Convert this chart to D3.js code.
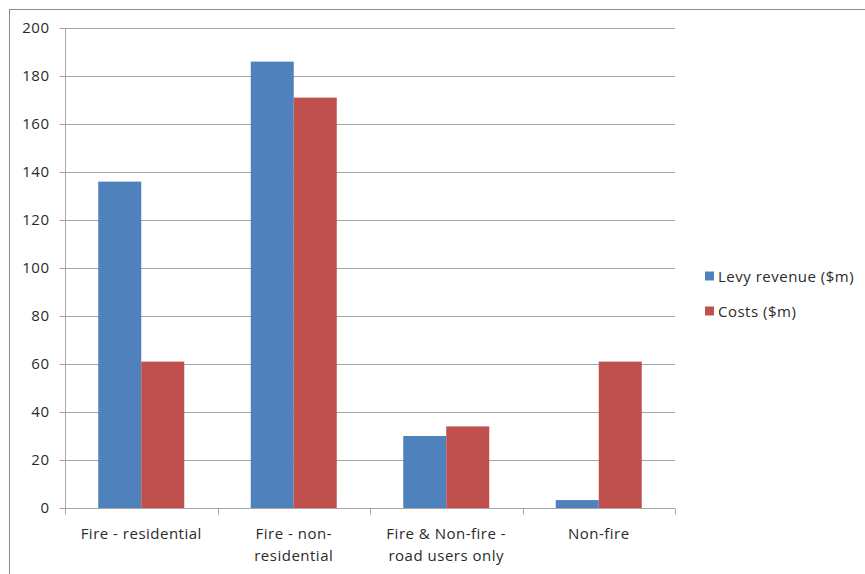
<!DOCTYPE html>
<html><head><meta charset="utf-8">
<script src="https://cdn.jsdelivr.net/npm/d3@7"></script>
<style>body{margin:0;background:#fff}svg{display:block}text{font-family:"Open Sans",sans-serif;fill:#2b2b2b;letter-spacing:0.5px}</style>
</head><body>
<svg id="c" width="865" height="574"></svg>
<script>
const categories = [["Fire - residential"], ["Fire - non-", "residential"], ["Fire & Non-fire -", "road users only"], ["Non-fire"]];
const seriesNames = ["Levy revenue ($m)", "Costs ($m)"];
const levyRevenue = [136, 186, 30, 3.3];
const costs = [61, 171, 34, 61];
const yTicks = [0, 20, 40, 60, 80, 100, 120, 140, 160, 180, 200];
const colors = ["#4f81bd", "#c0504d"];

(function () {
const svg = d3.select("#c");
const pL = 65, pR = 675, pT = 28, pB = 508;
const fs = 15;
svg.append("rect").attr("x", 9.5).attr("y", 9.5).attr("width", 900).attr("height", 600)
  .attr("fill", "none").attr("stroke", "#8c8c8c");

const y = d3.scaleLinear().domain([0, 200]).range([pB, pT]);
const idx = d3.range(categories.length);
const x0 = d3.scaleBand().domain(idx).range([pL, pR]).paddingInner(0.436).paddingOuter(0.218);
const x1 = d3.scaleBand().domain([0, 1]).range([0, x0.bandwidth()]);
const xAxisScale = d3.scaleBand().domain(idx).range([pL, pR]);

svg.append("g").selectAll("line").data(yTicks.filter(t => t > 0)).join("line")
  .attr("x1", pL).attr("x2", pR).attr("y1", d => Math.round(y(d)) + 0.5).attr("y2", d => Math.round(y(d)) + 0.5)
  .attr("stroke", "#a6a6a6").attr("stroke-width", 1);

const data = [levyRevenue, costs];
data.forEach((vals, s) => {
  svg.append("g").selectAll("rect").data(vals).join("rect")
    .attr("x", (d, i) => x0(i) + x1(s))
    .attr("width", x1.bandwidth())
    .attr("y", d => y(d))
    .attr("height", d => y(0) - y(d))
    .attr("fill", colors[s]);
});

const yAxis = d3.axisLeft(y).tickValues(yTicks).tickSize(6).tickPadding(10);
const gy = svg.append("g").attr("transform", `translate(${pL + 0.5},0)`).call(yAxis);
gy.selectAll(".tick line").attr("stroke", "#a6a6a6");
gy.select(".domain").attr("stroke", "#a6a6a6").attr("d", `M0,${pT}V${pB}`);
gy.selectAll("text").attr("font-size", fs).attr("font-family", "Open Sans").attr("fill", "#2b2b2b");

const gx = svg.append("g").attr("transform", `translate(0,${pB + 0.5})`);
gx.append("line").attr("x1", pL).attr("x2", pR).attr("stroke", "#a6a6a6");
const tickPos = idx.map(i => xAxisScale(i)).concat([pR]);
gx.selectAll("line.t").data(tickPos).join("line").attr("class", "t")
  .attr("x1", d => Math.round(d) + 0.5).attr("x2", d => Math.round(d) + 0.5).attr("y1", 0).attr("y2", 6).attr("stroke", "#a6a6a6");
const lbl = gx.selectAll("text").data(categories).join("text")
  .attr("x", (d, i) => xAxisScale(i) + xAxisScale.bandwidth() / 2)
  .attr("y", 30).attr("text-anchor", "middle").attr("font-size", fs);
lbl.selectAll("tspan").data(d => d).join("tspan")
  .attr("x", function () { return this.parentNode.getAttribute("x"); })
  .attr("dy", (d, i) => i === 0 ? 0 : 22).text(d => d);

const lg = svg.append("g");
seriesNames.forEach((n, i) => {
  const yy = 276 + i * 35;
  lg.append("rect").attr("x", 705).attr("y", yy - 4.5).attr("width", 9).attr("height", 9).attr("fill", colors[i]);
  lg.append("text").attr("x", 718).attr("y", yy + 5.5).attr("font-size", fs).text(n);
});
})();
</script>
</body></html>
